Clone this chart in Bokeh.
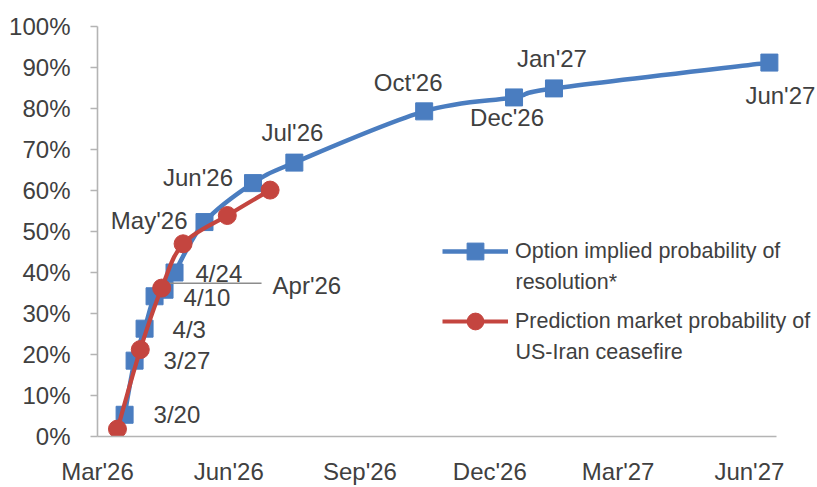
import numpy as np
from datetime import datetime, timedelta
from bokeh.plotting import figure
from bokeh.models import (ColumnDataSource, LabelSet, Label, Legend, LegendItem, FixedTicker,
                          Range1d, PrintfTickFormatter, DatetimeTickFormatter)
from bokeh.core.properties import value
from bokeh.embed import file_html
from bokeh.resources import INLINE

# ---------------- data ----------------
option_dates = ["2026-03-20", "2026-03-27", "2026-04-03", "2026-04-10", "2026-04-17",
                "2026-04-24", "2026-05-15", "2026-06-18", "2026-07-17", "2026-10-16",
                "2026-12-18", "2027-01-15", "2027-06-15"]
option_prob = [5.3, 18.5, 26.3, 34.2, 35.8, 40.0, 52.3, 61.8, 66.8, 79.3, 82.7, 84.9, 91.2]
option_labels = ["3/20", "3/27", "4/3", "4/10", "Apr'26", "4/24", "May'26", "Jun'26",
                 "Jul'26", "Oct'26", "Dec'26", "Jan'27", "Jun'27"]

market_dates = ["2026-03-15", "2026-03-31", "2026-04-15", "2026-04-30", "2026-05-31", "2026-06-30"]
market_prob = [1.8, 21.2, 36.2, 47.0, 53.9, 60.1]

x_tick_dates = ["2026-03-01", "2026-06-01", "2026-09-01", "2026-12-01", "2027-03-01", "2027-06-01"]
y_tick_values = [0, 10, 20, 30, 40, 50, 60, 70, 80, 90, 100]

series_first_lines = ["Option implied probability of", "Prediction market probability of"]
series_second_lines = ["resolution*", "US-Iran ceasefire"]

# ---------------- styles ----------------
BLUE = "#4a7dc0"
RED = "#c4453f"
TEXT = "#404040"
AXIS = "#b4b4b4"
FONT = "Liberation Sans"
FS = "24px"

# label offsets (screen px) and alignment, per option label
label_dx = [29, 29, 28, 29, 108, 21, -17, -20, -2, -16, -7, -2, 11]
label_dy = [0, 0, -1, -1, 4, -1, 2, 6, 30, 29, -20, 30, -33]
label_align = ["left", "left", "left", "left", "left", "left", "right", "right",
               "center", "center", "center", "center", "center"]


def to_ms(dates):
    return np.array(dates, dtype="datetime64[ms]").astype("int64").astype(float)


def smooth(xs, ys):
    xs = np.asarray(xs, float)
    ys = np.asarray(ys, float)
    n = len(xs)
    out = {k: [] for k in ("x0", "y0", "x1", "y1", "cx0", "cy0", "cx1", "cy1")}
    for i in range(n - 1):
        a = max(i - 1, 0)
        b = min(i + 2, n - 1)
        out["x0"].append(xs[i]); out["y0"].append(ys[i])
        out["x1"].append(xs[i + 1]); out["y1"].append(ys[i + 1])
        out["cx0"].append(xs[i] + (xs[i + 1] - xs[a]) / 6.0)
        out["cy0"].append(ys[i] + (ys[i + 1] - ys[a]) / 6.0)
        out["cx1"].append(xs[i + 1] - (xs[b] - xs[i]) / 6.0)
        out["cy1"].append(ys[i + 1] - (ys[b] - ys[i]) / 6.0)
    return ColumnDataSource(out)


ox = to_ms(option_dates)
mx = to_ms(market_dates)

axis_start = datetime(2026, 3, 1)
axis_end = datetime(2027, 6, 20)

p = figure(width=817, height=487, x_axis_type="datetime",
           x_range=Range1d(axis_start, datetime(2027, 7, 17, 8)),
           y_range=Range1d(0, 100),
           output_backend="svg", toolbar_location=None,
           min_border_left=97, min_border_right=2, min_border_top=26, min_border_bottom=50)
p.outline_line_color = None
p.grid.visible = False
p.background_fill_color = "white"
p.border_fill_color = "white"

# axes
p.yaxis.ticker = FixedTicker(ticks=y_tick_values)
p.yaxis.formatter = PrintfTickFormatter(format="%d%%")
p.xaxis.ticker = FixedTicker(ticks=list(to_ms(x_tick_dates)))
p.xaxis.formatter = DatetimeTickFormatter(days="%b'%y", months="%b'%y", years="%b'%y")
p.xaxis.bounds = (axis_start, axis_end)
for ax in (p.xaxis[0], p.yaxis[0]):
    ax.axis_line_color = AXIS
    ax.axis_line_width = 1.6
    ax.major_tick_line_color = AXIS
    ax.major_tick_line_width = 1.6
    ax.minor_tick_line_color = None
    ax.major_tick_in = 0
    ax.major_label_text_font = FONT
    ax.major_label_text_font_size = FS
    ax.major_label_text_color = TEXT
p.yaxis.major_tick_out = 7
p.yaxis.major_label_standoff = 20
p.xaxis.major_tick_out = 0
p.xaxis.major_label_standoff = 21

# blue option series
p.bezier(x0="x0", y0="y0", x1="x1", y1="y1", cx0="cx0", cy0="cy0", cx1="cx1", cy1="cy1",
         source=smooth(ox, option_prob), line_color=BLUE, line_width=4.5)
blue_pts = p.scatter(ox, option_prob, marker="square", size=17, fill_color=BLUE, line_color=BLUE)

# leader line for Apr'26
ai = option_labels.index("Apr'26")
p.segment(x0=[ox[ai]], y0=[option_prob[ai] + 1.6],
          x1=[ox[ai] + timedelta(days=68).total_seconds() * 1000], y1=[option_prob[ai] + 1.6],
          line_color="#8c8c8c", line_width=1.5)

# red market series
p.bezier(x0="x0", y0="y0", x1="x1", y1="y1", cx0="cx0", cy0="cy0", cx1="cx1", cy1="cy1",
         source=smooth(mx, market_prob), line_color=RED, line_width=4.2)
red_pts = p.scatter(mx, market_prob, marker="circle", size=18, fill_color=RED, line_color=RED)

# data labels
lab_src = ColumnDataSource(dict(x=ox, y=option_prob, text=option_labels,
                                dx=label_dx, dy=label_dy, align=label_align))
p.add_layout(LabelSet(x="x", y="y", text="text", source=lab_src, x_offset="dx", y_offset="dy",
                      text_align="align", text_baseline="middle",
                      text_font=value(FONT), text_font_size=FS, text_color=TEXT))

# legend
leg_blue_line = p.line(x=[np.nan], y=[np.nan], line_color=BLUE, line_width=4.5)
leg_red_line = p.line(x=[np.nan], y=[np.nan], line_color=RED, line_width=4.2)
legend = Legend(items=[LegendItem(label=series_first_lines[0], renderers=[leg_blue_line, blue_pts]),
                       LegendItem(label=series_first_lines[1], renderers=[leg_red_line, red_pts])],
                location=(345, 94), orientation="vertical",
                glyph_width=66, glyph_height=42, label_standoff=7, spacing=28,
                padding=0, margin=0, border_line_color=None, background_fill_alpha=0,
                label_text_font=FONT, label_text_font_size="21.5px", label_text_color=TEXT,
                label_text_baseline="middle")
p.add_layout(legend)

for txt, ypos in zip(series_second_lines, [155, 85]):
    p.add_layout(Label(x=418, y=ypos, x_units="screen", y_units="screen", text=txt,
                       text_font=FONT, text_font_size="21.5px", text_color=TEXT,
                       text_baseline="middle", text_align="left"))

open("out.html", "w").write(file_html(p, INLINE))
